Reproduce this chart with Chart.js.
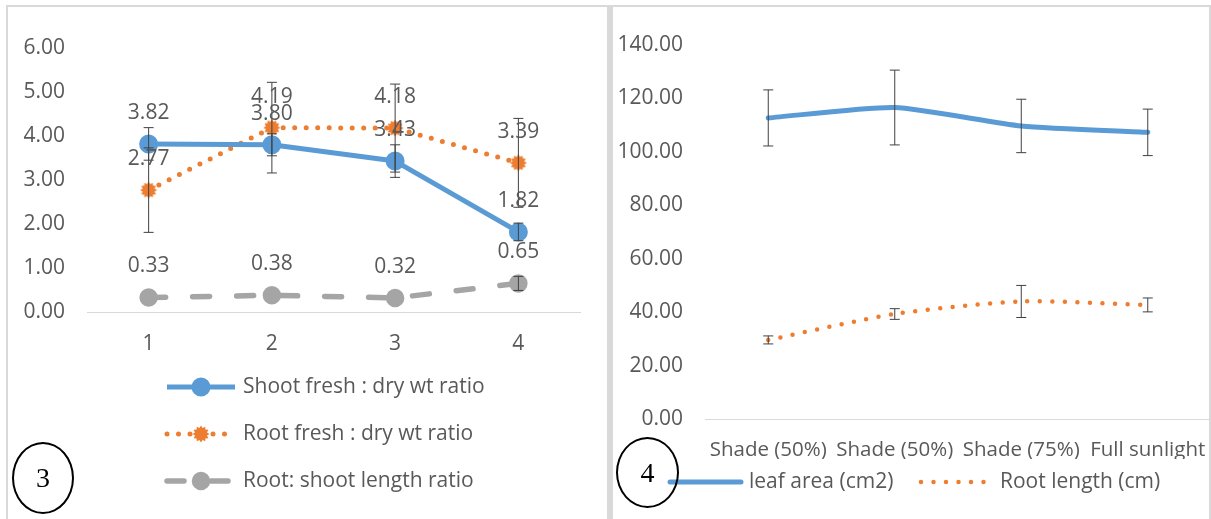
<!DOCTYPE html>
<html>
<head>
<meta charset="utf-8">
<script src="https://cdn.jsdelivr.net/npm/chart.js@4.4.1/dist/chart.umd.min.js"></script>
<style>
  body { margin: 0; width: 1211px; height: 519px; overflow: hidden; background: #fff; position: relative; }
  canvas { position: absolute; }
  .frame { position: absolute; box-sizing: border-box; border: 2px solid #d9d9d9; height: 620px; z-index: 2; pointer-events: none; }
  .tag { position: absolute; box-sizing: border-box; border: 2px solid #000; border-radius: 50%;
         font-family: "Liberation Serif", serif; font-size: 28px; color: #000; text-align: center; z-index: 3; }
</style>
</head>
<body>
<canvas id="graficoRazao" width="599" height="512" style="left:8px;top:7px"></canvas>
<canvas id="graficoSombra" width="598" height="512" style="left:613px;top:7px"></canvas>
<div class="frame" style="left:6px;top:5px;width:604px;border-right-width:3px"></div>
<div class="frame" style="left:610px;top:5px;width:601px;border-left-width:3px"></div>
<div class="tag" style="left:12px;top:442px;width:62px;height:72px;line-height:68px">3</div>
<div class="tag" style="left:616px;top:437px;width:63px;height:71px;line-height:67px">4</div>

<script>
// dados do grafico 3 (razoes)
const pontos = ["1", "2", "3", "4"];
const shootRatio = [3.82, 3.80, 3.43, 1.82];
const shootRatioErr = [0.37, 0.25, 0.37, 0.20];
const rootRatio = [2.77, 4.19, 4.18, 3.39];
const rootRatioErr = [0.96, 1.03, 1.00, 1.01];
const lengthRatio = [0.33, 0.38, 0.32, 0.65];
const lengthRatioErr = [0, 0, 0, 0.16];

// dados do grafico 4 (sombreamento)
const tratamentos = ["Shade (50%)", "Shade (50%)", "Shade (75%)", "Full sunlight"];
const leafArea = [112.7, 116.6, 109.7, 107.3];
const leafAreaErr = [10.5, 14.0, 10.0, 8.7];
const rootLength = [29.6, 39.3, 44.0, 42.7];
const rootLengthErr = [1.5, 2.0, 6.0, 2.6];

const azul = "#5b9bd5";
const laranja = "#ed7d31";
const cinza = "#a5a5a5";
const textoCor = "#595959";
const fonte = '"Open Sans", sans-serif';
const tamanho = 21;

// marcador laranja em forma de estrela (tipo excel)
function geraEstrela() {
  const c = document.createElement("canvas");
  c.width = 18;
  c.height = 18;
  const g = c.getContext("2d");
  g.fillStyle = laranja;
  g.beginPath();
  const pontas = 12;
  for (let i = 0; i < pontas * 2; i++) {
    const r = i % 2 === 0 ? 8.5 : 6.2;
    const a = (Math.PI * i) / pontas;
    g.lineTo(9 + r * Math.cos(a), 9 + r * Math.sin(a));
  }
  g.closePath();
  g.fill();
  return c;
}
const estrela = geraEstrela();

// barras de erro + rotulos de dados + legenda desenhada a mao
const extras = {
  id: "extras",
  afterDatasetsDraw(chart, args, opts) {
    const ctx = chart.ctx;
    const escala = chart.scales.y;
    ctx.save();
    chart.data.datasets.forEach((ds, i) => {
      if (!ds.erros) return;
      const meta = chart.getDatasetMeta(i);
      meta.data.forEach((pt, j) => {
        if (!ds.erros[j]) return;
        const cima = escala.getPixelForValue(ds.data[j] + ds.erros[j]);
        const baixo = escala.getPixelForValue(ds.data[j] - ds.erros[j]);
        ctx.strokeStyle = "#404040";
        ctx.lineWidth = 1;
        ctx.beginPath();
        ctx.moveTo(pt.x, cima);
        ctx.lineTo(pt.x, baixo);
        ctx.moveTo(pt.x - 5, cima);
        ctx.lineTo(pt.x + 5, cima);
        ctx.moveTo(pt.x - 5, baixo);
        ctx.lineTo(pt.x + 5, baixo);
        ctx.stroke();
      });
    });
    chart.data.datasets.forEach((ds, i) => {
      if (!ds.rotulos) return;
      const meta = chart.getDatasetMeta(i);
      ctx.fillStyle = textoCor;
      ctx.font = tamanho + "px " + fonte;
      ctx.textAlign = "center";
      ctx.textBaseline = "middle";
      meta.data.forEach((pt, j) => {
        ctx.fillText(ds.data[j].toFixed(2), pt.x, pt.y - 31);
      });
    });
    ctx.restore();
  },
  afterDraw(chart, args, opts) {
    if (!opts.itens) return;
    const ctx = chart.ctx;
    ctx.save();
    chart.data.datasets.forEach((ds, i) => {
      const pos = opts.itens[i];
      ctx.strokeStyle = ds.borderColor;
      ctx.lineWidth = ds.borderWidth;
      ctx.lineCap = ds.borderCapStyle || "butt";
      ctx.setLineDash(ds.borderDash || []);
      ctx.beginPath();
      ctx.moveTo(pos.x, pos.y);
      ctx.lineTo(pos.x + opts.largura, pos.y);
      ctx.stroke();
      ctx.setLineDash([]);
      if (ds.pointRadius > 0) {
        ctx.fillStyle = ds.pointBackgroundColor;
        ctx.strokeStyle = ds.pointBorderColor;
        Chart.helpers.drawPoint(ctx, {
          pointStyle: ds.pointStyle,
          radius: ds.pointRadius,
          rotation: 0,
          borderWidth: 1,
        }, pos.x + opts.largura / 2, pos.y);
      }
      ctx.fillStyle = textoCor;
      ctx.font = tamanho + "px " + fonte;
      ctx.textAlign = "left";
      ctx.textBaseline = "middle";
      ctx.fillText(ds.label, pos.x + opts.largura + 8, pos.y);
    });
    ctx.restore();
  },
};

const eixoX = (altura, tam) => ({
  type: "category",
  offset: true,
  afterFit: (s) => {
    s.height = altura;
    s.paddingLeft = 0;
    s.paddingRight = 0;
  },
  grid: { display: false, drawTicks: false },
  border: { display: true, color: "#d9d9d9", width: 1 },
  ticks: { color: textoCor, font: { family: fonte, size: tam }, padding: 19, autoSkip: false, maxRotation: 0 },
});

const eixoY = (largura, max, passo) => ({
  min: 0,
  max: max,
  afterFit: (s) => { s.width = largura; },
  grid: { display: false, drawTicks: false },
  border: { display: false },
  ticks: {
    stepSize: passo,
    color: textoCor,
    font: { family: fonte, size: tamanho },
    padding: 22,
    callback: (v) => Number(v).toFixed(2),
  },
});

const graficoRazao = new Chart(document.getElementById("graficoRazao"), {
  type: "line",
  data: {
    labels: pontos,
    datasets: [
      {
        label: "Shoot fresh : dry wt ratio",
        data: shootRatio,
        erros: shootRatioErr,
        rotulos: true,
        borderColor: azul,
        borderWidth: 5,
        borderJoinStyle: "round",
        pointStyle: "circle",
        pointRadius: 7,
        pointBackgroundColor: azul,
        pointBorderColor: azul,
      },
      {
        label: "Root fresh : dry wt ratio",
        data: rootRatio,
        erros: rootRatioErr,
        rotulos: true,
        borderColor: laranja,
        borderWidth: 5,
        borderDash: [0, 11.5],
        borderCapStyle: "round",
        pointStyle: estrela,
        pointRadius: 8,
        pointBackgroundColor: laranja,
        pointBorderColor: laranja,
      },
      {
        label: "Root: shoot length ratio",
        data: lengthRatio,
        erros: lengthRatioErr,
        rotulos: true,
        borderColor: cinza,
        borderWidth: 5.5,
        borderDash: [17, 27],
        borderCapStyle: "round",
        pointStyle: "circle",
        pointRadius: 6.5,
        pointBackgroundColor: cinza,
        pointBorderColor: cinza,
      },
    ],
  },
  options: {
    responsive: false,
    animation: false,
    devicePixelRatio: 1,
    layout: { padding: { left: 0, right: 27, top: 41, bottom: 167 } },
    scales: { x: eixoX(40, tamanho), y: eixoY(79, 6, 1) },
    plugins: {
      legend: { display: false },
      tooltip: { enabled: false },
      extras: {
        largura: 68,
        itens: [{ x: 159, y: 380 }, { x: 159, y: 427 }, { x: 159, y: 474 }],
      },
    },
  },
  plugins: [extras],
});

const graficoSombra = new Chart(document.getElementById("graficoSombra"), {
  type: "line",
  data: {
    labels: tratamentos,
    datasets: [
      {
        label: "leaf area (cm2)",
        data: leafArea,
        erros: leafAreaErr,
        borderColor: azul,
        borderWidth: 5,
        borderCapStyle: "round",
        borderJoinStyle: "round",
        tension: 0.2,
        pointRadius: 0,
      },
      {
        label: "Root length (cm)",
        data: rootLength,
        erros: rootLengthErr,
        borderColor: laranja,
        borderWidth: 4.5,
        borderDash: [0, 12.5],
        borderCapStyle: "round",
        tension: 0.25,
        pointRadius: 0,
      },
    ],
  },
  options: {
    responsive: false,
    animation: false,
    devicePixelRatio: 1,
    layout: { padding: { left: 0, right: 0, top: 38, bottom: 60 } },
    scales: { x: eixoX(40, 20.5), y: eixoY(92, 140, 20) },
    plugins: {
      legend: { display: false },
      tooltip: { enabled: false },
      extras: {
        largura: 71,
        itens: [{ x: 57, y: 475 }, { x: 308, y: 475 }],
      },
    },
  },
  plugins: [extras],
});
</script>
</body>
</html>
